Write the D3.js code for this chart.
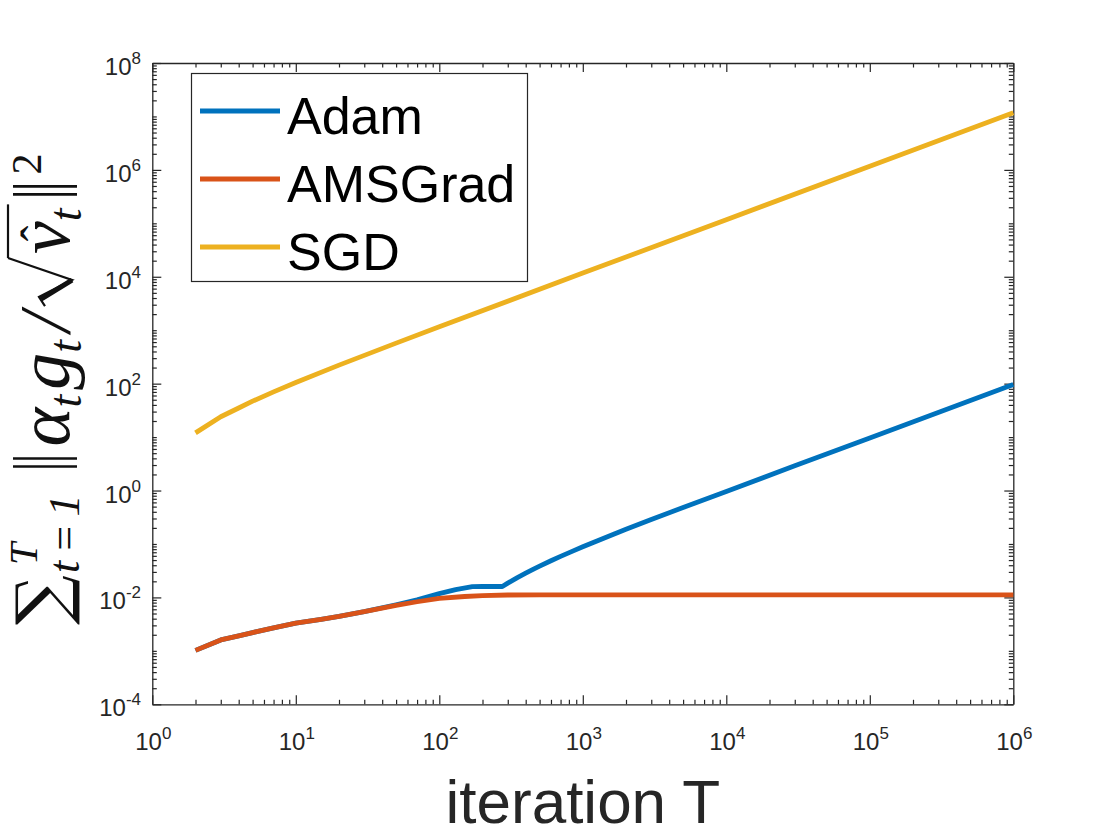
<!DOCTYPE html>
<html>
<head>
<meta charset="utf-8">
<script src="https://cdn.jsdelivr.net/npm/d3@7/dist/d3.min.js"></script>
<style>
  body { margin: 0; background: #fff; }
  svg { display: block; }
</style>
</head>
<body>
<svg id="chart" width="1120" height="840"></svg>
<script>
// values
const adamT = [2, 3, 4, 5, 7, 10, 15, 20, 30, 50, 70, 100, 130, 170, 200, 275, 300, 350, 400, 450, 500, 600, 700, 850, 1000, 1500, 2000, 3000, 5000, 1e4, 3e4, 1e5, 1e6];
const adamV = [0.00102, 0.0016, 0.0019, 0.0022, 0.0027, 0.0033, 0.0039, 0.0044, 0.0054, 0.0073, 0.0090, 0.0118, 0.0140, 0.0159, 0.0160, 0.0160, 0.0185, 0.0235, 0.0285, 0.0335, 0.0385, 0.0485, 0.0585, 0.0735, 0.0885, 0.138, 0.188, 0.288, 0.48, 0.96, 2.9, 9.6, 96];

const amsT = [2, 3, 4, 5, 7, 10, 15, 20, 30, 50, 70, 100, 150, 200, 300, 500, 1000, 1e4, 1e5, 1e6];
const amsV = [0.00102, 0.0016, 0.0019, 0.0022, 0.0027, 0.0033, 0.0039, 0.0044, 0.0054, 0.0071, 0.0083, 0.0096, 0.0104, 0.0108, 0.0111, 0.0112, 0.0112, 0.0112, 0.0112, 0.0112];

const sgdT = [2, 3, 4, 5, 7, 10, 20, 50, 100, 1000, 1e4, 1e5, 1e6];
const sgdV = [12, 24, 35, 47, 70, 105, 222, 573, 1160, 11700, 117000, 1170000, 11700000];

const seriesNames = ["Adam", "AMSGrad", "SGD"];
const seriesColors = ["#0072BD", "#D95319", "#EDB120"];

const xMajor = [1, 10, 100, 1e3, 1e4, 1e5, 1e6];
const xExp = ["0", "1", "2", "3", "4", "5", "6"];
const yMajor = [1e-4, 1e-2, 1, 1e2, 1e4, 1e6, 1e8];
const yExp = ["-4", "-2", "0", "2", "4", "6", "8"];

const axisColor = "#262626";
const svg = d3.select("#chart");

const pLeft = 152.3, pRight = 1013.3, pTop = 63, pBottom = 704.3;
const x = d3.scaleLog().domain([1, 1e6]).range([pLeft, pRight]);
const y = d3.scaleLog().domain([1e-4, 1e8]).range([pBottom, pTop]);

// minor tick values: d * 10^k
function minorTicks(lo, hi, skip) {
  const out = [];
  for (let k = lo; k < hi; k++) {
    for (let d = 1; d <= 9; d++) {
      const v = d * Math.pow(10, k);
      if (!skip.some(m => Math.abs(m - v) / v < 1e-9)) out.push(v);
    }
  }
  return out;
}
const xMinor = minorTicks(0, 6, xMajor);
const yMinor = minorTicks(-4, 8, yMajor);

// axes (ticks inward on all four sides)
function drawAxis(axisFn, scale, vals, size, transform, keepDomain) {
  const g = svg.append("g")
    .attr("transform", transform)
    .call(axisFn(scale).tickValues(vals).tickSize(-size).tickSizeOuter(0).tickFormat(""));
  g.selectAll("line").attr("stroke", axisColor).attr("stroke-width", 1.2);
  if (keepDomain) g.select(".domain").attr("stroke", axisColor).attr("stroke-width", 1.3);
  else g.select(".domain").remove();
  g.selectAll("text").remove();
  return g;
}

drawAxis(d3.axisBottom, x, xMajor, 9, `translate(0,${pBottom})`, true);
drawAxis(d3.axisBottom, x, xMinor, 4.5, `translate(0,${pBottom})`, false);
drawAxis(d3.axisTop, x, xMajor, 9, `translate(0,${pTop})`, true);
drawAxis(d3.axisTop, x, xMinor, 4.5, `translate(0,${pTop})`, false);
drawAxis(d3.axisLeft, y, yMajor, 9, `translate(${pLeft},0)`, true);
drawAxis(d3.axisLeft, y, yMinor, 4.5, `translate(${pLeft},0)`, false);
drawAxis(d3.axisRight, y, yMajor, 9, `translate(${pRight},0)`, true);
drawAxis(d3.axisRight, y, yMinor, 4.5, `translate(${pRight},0)`, false);

// lines
const line = d3.line()
  .x(d => x(d[0]))
  .y(d => y(d[1]));

const series = [
  adamT.map((t, i) => [t, adamV[i]]),
  amsT.map((t, i) => [t, amsV[i]]),
  sgdT.map((t, i) => [t, sgdV[i]])
];

svg.append("g").selectAll("path")
  .data(series)
  .enter()
  .append("path")
  .attr("d", line)
  .attr("fill", "none")
  .attr("stroke", (d, i) => seriesColors[i])
  .attr("stroke-width", 4.8)
  .attr("stroke-linejoin", "round");

// tick labels
const labelFont = "'Liberation Sans', Arial, sans-serif";
const xl = svg.append("g").attr("font-family", labelFont).attr("fill", axisColor);
xMajor.forEach((v, i) => {
  const t = xl.append("text")
    .attr("x", x(v) + 1)
    .attr("y", 750)
    .attr("text-anchor", "middle")
    .attr("font-size", 24);
  t.append("tspan").text("10");
  t.append("tspan").attr("dy", -11).attr("font-size", 17).text(xExp[i]);
});

const yl = svg.append("g").attr("font-family", labelFont).attr("fill", axisColor);
yMajor.forEach((v, i) => {
  const t = yl.append("text")
    .attr("x", 141)
    .attr("y", y(v) + 12)
    .attr("text-anchor", "end")
    .attr("font-size", 24);
  t.append("tspan").text("10");
  t.append("tspan").attr("dy", -11).attr("font-size", 17).text(yExp[i]);
});

// x axis title
svg.append("text")
  .attr("x", (pLeft + pRight) / 2)
  .attr("y", 823)
  .attr("text-anchor", "middle")
  .attr("font-family", labelFont)
  .attr("font-size", 62)
  .attr("fill", axisColor)
  .text("iteration T");

// legend
const legend = svg.append("g");
legend.append("rect")
  .attr("x", 191.5).attr("y", 73.5)
  .attr("width", 336).attr("height", 208)
  .attr("fill", "#fff")
  .attr("stroke", axisColor)
  .attr("stroke-width", 1.2);
const legendY = d3.scalePoint().domain(seriesNames).range([111, 247]);
seriesNames.forEach((name, i) => {
  legend.append("line")
    .attr("x1", 200).attr("x2", 280)
    .attr("y1", legendY(name)).attr("y2", legendY(name))
    .attr("stroke", seriesColors[i])
    .attr("stroke-width", 5);
  legend.append("text")
    .attr("x", 287)
    .attr("y", legendY(name) + 23)
    .attr("font-family", labelFont)
    .attr("font-size", 52)
    .attr("fill", "#000")
    .text(name);
});

// y axis title: sum_{t=1}^T || alpha_t g_t / sqrt(hat v_t) ||^2 (rotated)
const mathFont = "'Liberation Serif', 'Times New Roman', serif";
const yt = svg.append("g")
  .attr("transform", "translate(71,625) rotate(-90)")
  .attr("fill", "#111");
let cx = 0;
function put(txt, size, dy, italic, family) {
  const t = yt.append("text")
    .attr("x", cx).attr("y", dy)
    .attr("font-size", size)
    .attr("font-family", family || mathFont)
    .attr("font-style", italic ? "italic" : "normal")
    .text(txt);
  return t.node().getComputedTextLength();
}
function bars(pos) {
  [0, 8].forEach(o => {
    yt.append("line")
      .attr("x1", pos + o).attr("x2", pos + o)
      .attr("y1", -58).attr("y2", 6)
      .attr("stroke", "#111").attr("stroke-width", 2.6);
  });
}
// sum sign
cx += put("\u2211", 70, -5, false, "'DejaVu Serif', serif");
const subStart = cx + 2;
cx = subStart;
const wSub = put("t\u2006=\u20061", 44, 8, true);
cx = subStart + 8;
put("T", 40, -34, true);
cx = subStart + wSub + 28;
bars(cx);
cx += 20;
cx += put("\u03b1", 74, -2, true);
cx += put("t", 46, 10, true);
cx += 5;
cx += put("g", 74, -2, true);
cx += put("t", 46, 10, true);
cx += 8;
cx += put("/", 72, -2, true);
cx += 6;
// radical
const r0 = cx;
const rad = d3.path();
rad.moveTo(r0, -26);
rad.lineTo(r0 + 9, -32);
rad.lineTo(r0 + 26, 1);
rad.lineTo(r0 + 48, -63);
yt.append("path").attr("d", rad.toString())
  .attr("fill", "none").attr("stroke", "#111").attr("stroke-width", 2.2)
  .attr("stroke-linejoin", "miter");
yt.append("path")
  .attr("d", `M${r0 + 7},-30L${r0 + 26},1`)
  .attr("stroke", "#111").attr("stroke-width", 5).attr("fill", "none");
cx = r0 + 52;
const vStart = cx;
const wv = put("v", 74, -2, true);
yt.append("text")
  .attr("x", vStart + wv / 2 + 4).attr("y", -16)
  .attr("text-anchor", "middle")
  .attr("font-size", 48).attr("font-family", mathFont)
  .text("\u02c6");
cx += wv;
cx += put("t", 46, 10, true);
cx += 4;
yt.append("line")
  .attr("x1", r0 + 48).attr("x2", cx)
  .attr("y1", -63).attr("y2", -63)
  .attr("stroke", "#111").attr("stroke-width", 2.2);
cx += 10;
bars(cx);
cx += 20;
put("2", 42, -30, false);
</script>
</body>
</html>
